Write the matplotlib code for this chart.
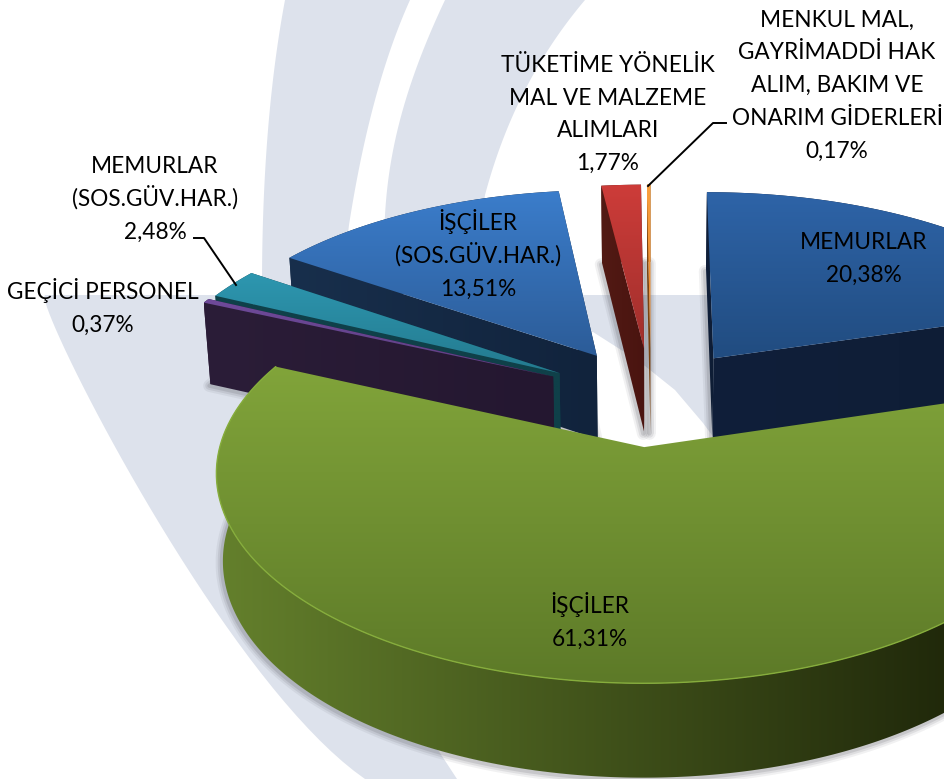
import numpy as np
import matplotlib
matplotlib.use("Agg")
import matplotlib.pyplot as plt
from matplotlib.patches import Polygon
from matplotlib.colors import to_rgb

plt.rcParams['font.family'] = ['Lato', 'DejaVu Sans']

categories = ["MEMURLAR", "İŞÇİLER", "GEÇİCİ PERSONEL", "MEMURLAR\n(SOS.GÜV.HAR.)",
              "İŞÇİLER\n(SOS.GÜV.HAR.)", "TÜKETİME YÖNELİK\nMAL VE MALZEME\nALIMLARI",
              "MENKUL MAL,\nGAYRİMADDİ HAK\nALIM, BAKIM VE\nONARIM GİDERLERİ"]
values = [20.38, 61.31, 0.37, 2.48, 13.51, 1.77, 0.17]
value_text = ["20,38%", "61,31%", "0,37%", "2,48%", "13,51%", "1,77%", "0,17%"]
explode = [0.26, 0.245, 0.265, 0.26, 0.26, 0.26, 0.26]
top_hi = ["#2e64a8", "#81a43a", "#6f4a9a", "#2d97b0", "#3b7dcb", "#cd3c39", "#f9a03f"]
top_lo = ["#214c80", "#5d7a28", "#5d3f82", "#247a8f", "#2c5c98", "#a02f2c", "#e8872c"]
wall_l = ["#101f3a", "#64802c", "#2b1d38", "#0f4049", "#182f4c", "#521a14", "#7a4310"]
wall_r = ["#0e1d34", "#151a05", "#241730", "#0f4049", "#11233c", "#4a1410", "#7a4310"]
label_xy = [(864, 257), (590, 621), (103, 307), (155, 198), (478, 255), (608, 113), (837, 84)]
draw_order = [6, 5, 4, 3, 2, 0, 1]
BG = "#dde2ec"

W, H = 945, 779
fig = plt.figure(figsize=(W / 100, H / 100), dpi=100)
ax = fig.add_axes([0, 0, 1, 1])
ax.set_xlim(0, W); ax.set_ylim(H, 0); ax.axis("off"); ax.set_autoscale_on(False)

def smooth(pts, n=40):
    pts = np.array(pts, float)
    t = np.linspace(0, 1, len(pts)); tt = np.linspace(0, 1, n)
    c = np.polyfit(t, pts, min(3, len(pts) - 1))
    return np.column_stack([np.polyval(c[:, 0], tt), np.polyval(c[:, 1], tt)])

bandA = np.vstack([smooth([(285, 0), (268, 130), (262, 280)]), [(262, 300), (340, 300)],
                   smooth([(349, 225), (375, 100), (410, 0)])])
bandB = np.vstack([smooth([(445, 0), (400, 120), (385, 215), (385, 300)]), [(470, 300)],
                   smooth([(485, 195), (525, 90), (585, 0)])])
outer = smooth([(45, 295), (90, 400), (215, 610), (365, 779)])
rest = np.array([(457, 779), (440, 753), (300, 560), (350, 400), (470, 330), (593, 332),
                 (640, 362), (675, 390), (703, 423), (760, 500), (945, 500), (945, 295)])
for poly in (bandA, bandB, np.vstack([outer, rest])):
    ax.add_patch(Polygon(poly, closed=True, fc=BG, ec="none", zorder=0))

CX, CY = 651, 398
X, Y, P = 412, 195, 0.12
DEPTH, P2 = 85, 0.08

def project(u, v, bottom=False):
    s = 1 + P * v
    x = X * u / s
    y = -Y * v / s
    if bottom:
        x *= 0.985
        y += DEPTH / (1 + P2 * v)
    return CX + x, CY + y

vals = np.array(values)
edges = np.concatenate([[0], np.cumsum(vals)]) / vals.sum() * 2 * np.pi

def gradfill(poly, c1, c2, z, vertical=True):
    poly = np.asarray(poly, float)
    xs, ys = poly[:, 0], poly[:, 1]
    g = np.linspace(0, 1, 128)
    g = g[:, None, None] if vertical else g[None, :, None]
    img = (1 - g) * np.array(to_rgb(c1))[None, None, :] + g * np.array(to_rgb(c2))[None, None, :]
    im = ax.imshow(img, extent=[xs.min(), xs.max(), ys.max(), ys.min()], aspect="auto",
                   zorder=z, interpolation="bilinear")
    patch = Polygon(poly, closed=True, transform=ax.transData, fc="none", ec="none")
    ax.add_patch(patch)
    im.set_clip_path(patch)

z = 1
for i in draw_order:
    a0, a1 = edges[i], edges[i + 1]
    mid = (a0 + a1) / 2
    cu, cv = explode[i] * np.sin(mid), explode[i] * np.cos(mid)
    n = max(int((a1 - a0) * 120), 6)
    th = np.linspace(a0, a1, n)
    us = cu + np.sin(th); vs = cv + np.cos(th)
    tx, ty = project(us, vs)
    bx, by = project(us, vs, True)
    ax_, ay_ = project(cu, cv)
    bax, bay = project(cu, cv, True)
    top = np.vstack([[ax_, ay_], np.column_stack([tx, ty])])
    bot = np.vstack([[bax, bay], np.column_stack([bx, by])])
    for lw, al in ((9, .07), (6, .10), (3, .14)):
        ax.add_patch(Polygon(bot + np.array([-1, 1.5]), closed=True, fc="none", ec="#404048",
                             lw=lw, alpha=al, zorder=z, joinstyle="round"))
    z += 1
    rim = np.vstack([np.column_stack([tx, ty]), np.column_stack([bx, by])[::-1]])
    gradfill(rim, wall_l[i], wall_r[i], z, vertical=False)
    z += 1
    for ex, ey, bxx, byy in ((tx[-1], ty[-1], bx[-1], by[-1]), (tx[0], ty[0], bx[0], by[0])):
        if i == 1:
            continue
        gradfill([(ax_, ay_), (ex, ey), (bxx, byy), (bax, bay)], wall_l[i], wall_r[i], z, vertical=False)
        z += 1
    gradfill(top, top_hi[i], top_lo[i], z)
    z += 1
    if i == 1:
        ax.plot(tx, ty, color="#86ad3c", lw=1.0, zorder=z, solid_capstyle="round")
        z += 1

ax.plot([194, 204, 236], [238, 238, 285], color="black", lw=1.4, zorder=z)
ax.plot([648, 713, 726], [186, 123, 123], color="black", lw=1.4, zorder=z)

for cat, vt, (lx, ly) in zip(categories, value_text, label_xy):
    lines = cat.split("\n") + [vt]
    for k, line in enumerate(lines):
        yy = ly + (k - (len(lines) - 1) / 2) * 32.8 + 8
        ax.text(lx, yy, line, ha="center", va="baseline", fontsize=16.3, color="black", zorder=z + 1)

fig.savefig("out.png", dpi=100)
